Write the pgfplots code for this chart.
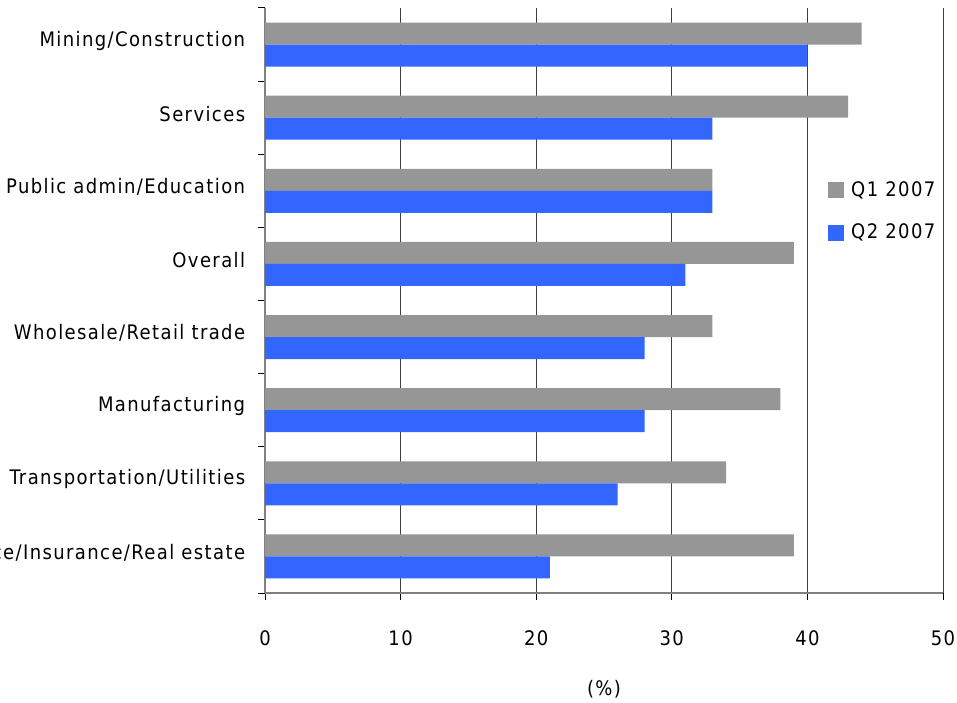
\documentclass[border=0pt]{standalone}
\usepackage{fontspec}
\setmainfont{DejaVu Sans Condensed}[LetterSpace=7]
\usepackage{pgfplots}
\pgfplotsset{compat=1.18}
\definecolor{qgray}{HTML}{969696}
\definecolor{qblue}{HTML}{3366FF}
\begin{document}
\fontsize{20pt}{23pt}\selectfont
\begin{tikzpicture}
\path[use as bounding box] (0,0) rectangle (957pt,702pt);
\clip (0,0) rectangle (957pt,702pt);
\begin{axis}[
 at={(265pt,109pt)}, anchor=south west,
 scale only axis, width=678pt, height=585pt,
 xmin=0, xmax=50, ymin=-0.5, ymax=7.5,
 xbar, bar width=22pt,
 axis x line*=bottom, axis y line*=left,
 axis line style={draw=gray, line width=1.5pt, -},
 xtick={0,10,...,50},
 ytick={0,...,7},
 yticklabels={Finance/Insurance/Real estate, Transportation/Utilities, Manufacturing, Wholesale/Retail trade, Overall, Public admin/Education, Services, Mining/Construction},
 minor ytick={-0.5,0.5,...,7.5},
 major y tick style={draw=none},
 minor y tick style={black, line width=1pt},
 minor tick length=7pt,
 x tick style={black, line width=1pt},
 major tick length=7pt,
 tick align=outside,
 xmajorgrids, grid style={black!75, line width=1pt},
 /pgf/number format/assume math mode=true,
 xticklabel style={yshift=-24pt},
 yticklabel style={xshift=-6pt, yshift=4pt},
 xlabel={(\%)},
 xlabel style={yshift=-21pt},
 legend style={at={(0.826,0.711)}, anchor=north west, draw=none, fill=none, row sep=21pt, font=\fontsize{20pt}{23pt}\selectfont},
 legend cell align=left,
 legend image code/.code={\fill[#1] (0pt,-8pt) rectangle (16pt,8pt); \path (21pt,0pt);},
]
\addplot[fill=qgray, draw=none, bar shift=11pt] coordinates {(39,0) (34,1) (38,2) (33,3) (39,4) (33,5) (43,6) (44,7)};
\addplot[fill=qblue, draw=none, bar shift=-11pt] coordinates {(21,0) (26,1) (28,2) (28,3) (31,4) (33,5) (33,6) (40,7)};
\legend{Q1 2007, Q2 2007}
\end{axis}
\end{tikzpicture}
\end{document}
